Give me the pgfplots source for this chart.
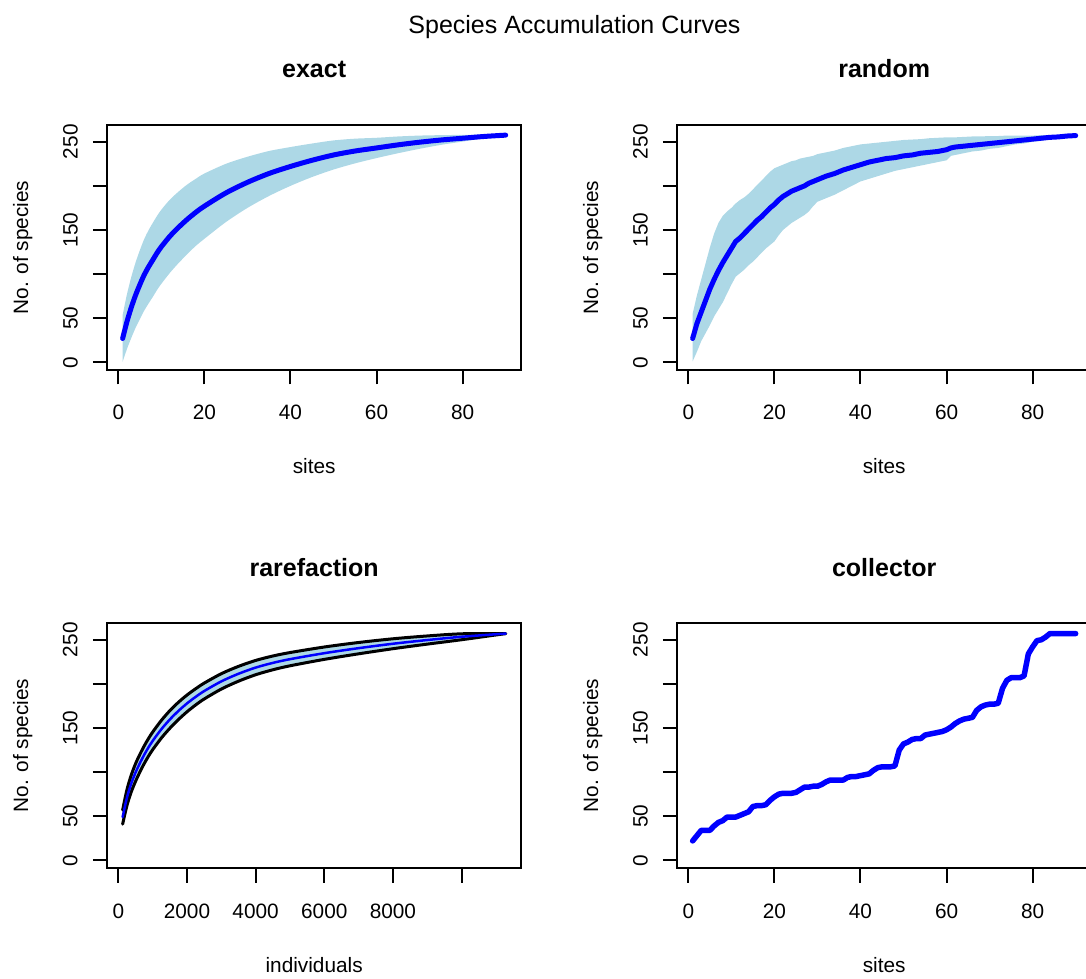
\documentclass[border=0pt]{standalone}
\usepackage{pgfplots}
\pgfplotsset{compat=1.18}
\usepackage{pgfplotstable}
\usepgfplotslibrary{fillbetween}
\usepackage{fontspec}
\setmainfont{Liberation Sans}
\definecolor{lblue}{HTML}{ADD8E6}
\definecolor{rblue}{HTML}{0000FF}

% exact: mean and +-2 sd band
\pgfplotstableread{
n m up lo
1 27 53.5 0.5
2 46 77 15
3 62 96.5 27.5
4 76 113 39
5 88 127 49
6 99 139.5 58.5
7 108 149.5 66.5
8 116 158 74
9 124 166 82
10 131 173 89
12 143 184.5 101.5
14 153 193.5 112.5
16 162 201.5 122.5
18 170 208 132
20 177 214 140
25 192 225 159
30 204 233 175
35 214 239.5 188.5
40 222 244 200
45 229 248 210
50 235 251.5 218.5
55 239.5 253.5 225.5
60 243 254.5 231.5
65 246.5 256 237
70 249.5 257 242
75 252 257.5 246.5
80 254 257.8 250.2
85 256 258 254
90 257.5 257.5 257.5
}\exacttab

% random permutations: mean and +-2 sd band
\pgfplotstableread{
n m up lo
1 27 55 1
2 44 76 12
3 57 94 24
4 70 112 33
5 83 130 42
6 94 146 52
7 104 158 60
8 113 166 68
9 121 171 78
10 129 175 88
11 137 180 97
12 141 184 101
13 146 187 105
14 151 191 110
15 156 196 114
16 161 201 119
17 165 206 124
18 170 211 129
19 175 216 133
20 179 220 137
21 184 222 144
22 188 224 150
23 191 226 154
24 194 228 158
25 196 229 161
26 198 231 164
27 200 232 167
28 203 233 171
29 205 234 177
30 207 236 182
32 211 238 186
34 214 240 190
36 218 243 195
38 221 245 200
40 224 247 205
42 227 248 208
44 229 249 211
46 231 250 214
48 232 251 217
50 234 252 219
52 235 252.5 221
54 237 253 223
56 238 254 225
58 239 254.5 227
60 241 255 229
61 243 255 234
62 244 255 235
64 245 255.5 237
66 246 256 239
68 247 256 240
70 248 256.5 242
72 249 256.5 243
74 250 257 245
76 251 257 247
78 252 257 248
80 253 257 250
82 254 257.5 251
84 255 257.5 253
86 255.5 257.5 254
88 256.5 257.5 255.5
90 257 257 257
}\randomtab

% rarefaction by individuals
\pgfplotstableread{
n m up lo
125.4 49 57 41
250.8 71 80 62
376.2 87 96.5 77.5
501.6 99.5 109.5 89.5
627 110 120 100
752.4 119.5 129.5 109.5
878 128 138 118
1003.2 135.5 145.5 125.5
1254 148.6 158.6 138.6
1504.8 159.8 169.8 149.8
1755.6 169.5 179.3 159.7
2006.4 178 187.5 168.5
2257.2 185.4 194.6 176.2
2508 192 201 183
3009.6 203 211.7 194.3
3511.2 211.6 220 203.2
4012.8 218.6 226.7 210.5
4514.4 223.9 231.7 216.1
5016 228.1 235.6 220.6
6019.2 234.9 241.9 227.9
7022.4 240.6 247 234.2
8025.6 245.6 251.2 240
9028.8 249.8 254.4 245.2
10032 253.5 256.8 250.2
11286 257 257 257
}\raretab

% collector curve, sites in original order
\pgfplotstableread{
n m
1 22
2 28
3 34
4 34
5 34
6 39
7 43
8 45
9 49
10 49
11 49
12 51
13 53
14 55
15 61
16 62
17 62
18 63
19 68
20 72
21 75
22 76
23 76
24 76
25 77
26 80
27 83
28 83
29 84
30 84
31 86
32 89
33 91
34 91
35 91
36 91
37 94
38 95
39 95
40 96
41 97
42 98
43 102
44 105
45 106
46 106
47 106
48 107
49 125
50 132
51 134
52 137
53 138
54 138
55 142
56 143
57 144
58 145
59 146
60 148
61 151
62 155
63 158
64 160
65 161
66 162
67 170
68 174
69 176
70 177
71 177
72 178
73 195
74 204
75 207
76 207
77 207
78 209
79 234
80 242
81 249
82 250
83 253
84 257
85 257
86 257
87 257
88 257
89 257
90 257
}\colltab

\pgfplotsset{
  rpanel/.style={
    scale only axis, width=413.7pt, height=245pt,
    anchor=north west,
    ymin=-8.7, ymax=269,
    axis line style={line width=2pt},
    every tick/.style={black, line width=2pt},
    tick align=outside, major tick length=14.5pt,
    xtick pos=bottom, ytick pos=left,
    ytick={0,50,100,150,200,250},
    yticklabels={0,50,,150,,250},
    scaled x ticks=false, scaled y ticks=false,
    /pgf/number format/assume math mode=true,
    tick label style={font=\fontsize{20.8}{25}\selectfont, inner sep=0pt},
    xticklabel style={anchor=base, yshift=-35.5pt},
    yticklabel style={xshift=-15.3pt, rotate=90, anchor=base},
    every axis x label/.style={at={(axis description cs:0.5,0)}, anchor=base, yshift=-104pt, font=\fontsize{20.8}{25}\selectfont},
    every axis y label/.style={at={(axis description cs:0,0.5)}, xshift=-79.3pt, rotate=90, anchor=base, font=\fontsize{20.8}{25}\selectfont},
    every axis title/.style={at={(axis description cs:0.5,1)}, anchor=base, yshift=47pt, font=\bfseries\fontsize{25}{30}\selectfont},
    ylabel={No. of species},
  },
  sitesx/.style={xmin=-2.56, xmax=93.56, xtick={0,20,40,60,80}, xlabel={sites}},
  meanline/.style={rblue, line width=5pt, line cap=round, line join=round},
}

\begin{document}
\begin{tikzpicture}

\node[font=\fontsize{25}{30}\selectfont, anchor=base] at (574.5pt,944.7pt) {Species Accumulation Curves};

% exact
\begin{axis}[rpanel, sitesx, at={(107.3pt,853pt)}, title={exact}]
\addplot[name path=eu, draw=none, smooth] table[x=n, y=up] {\exacttab};
\addplot[name path=el, draw=none, smooth] table[x=n, y=lo] {\exacttab};
\addplot[lblue, draw=none] fill between[of=eu and el];
\addplot[meanline, smooth] table[x=n, y=m] {\exacttab};
\end{axis}

% random
\begin{axis}[rpanel, sitesx, at={(677.3pt,853pt)}, title={random}]
\addplot[name path=ru, draw=none] table[x=n, y=up] {\randomtab};
\addplot[name path=rl, draw=none] table[x=n, y=lo] {\randomtab};
\addplot[lblue, draw=none] fill between[of=ru and rl];
\addplot[meanline] table[x=n, y=m] {\randomtab};
\end{axis}

% rarefaction
\begin{axis}[rpanel, at={(107.3pt,355pt)}, title={rarefaction},
  xmin=-321, xmax=11732, xtick={0,2000,4000,6000,8000,10000},
  xticklabels={0,2000,4000,6000,8000,}, xlabel={individuals}]
\addplot[name path=qu, draw=none, smooth] table[x=n, y=up] {\raretab};
\addplot[name path=ql, draw=none, smooth] table[x=n, y=lo] {\raretab};
\addplot[lblue, draw=none] fill between[of=qu and ql];
\addplot[black, line width=3pt, smooth, line cap=round] table[x=n, y=up] {\raretab};
\addplot[black, line width=3pt, smooth, line cap=round] table[x=n, y=lo] {\raretab};
\addplot[rblue, line width=2.5pt, smooth, line cap=round] table[x=n, y=m] {\raretab};
\end{axis}

% collector
\begin{axis}[rpanel, sitesx, at={(677.3pt,355pt)}, title={collector}]
\addplot[meanline, line width=5.5pt] table[x=n, y=m] {\colltab};
\end{axis}

\pgfresetboundingbox
\useasboundingbox (0pt,0pt) rectangle (1086pt,978pt);
\end{tikzpicture}
\end{document}
